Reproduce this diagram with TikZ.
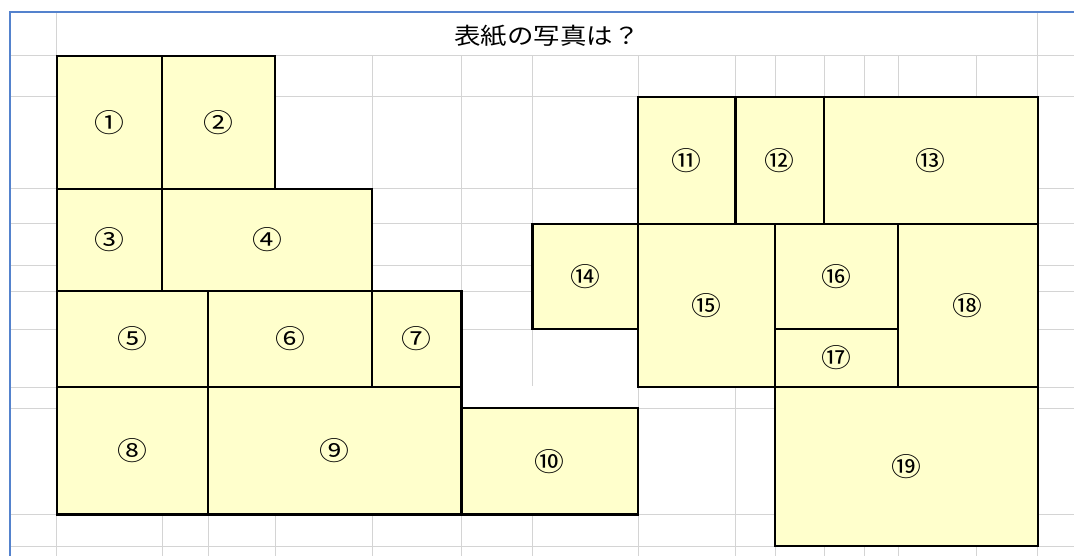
\documentclass[tikz,border=0pt]{standalone}
\usepackage{fontspec}
\setmainfont{Noto Sans CJK JP}
\newfontfamily\jfont[FakeStretch=1.15]{Noto Sans CJK JP}
\definecolor{cellyellow}{RGB}{255,255,204}
\definecolor{gridgray}{RGB}{212,212,212}
\definecolor{sheetblue}{RGB}{84,130,205}

\begin{document}
\begin{tikzpicture}[x=1pt, y=-1pt,
  gridline/.style={gridgray, line width=1pt},
  photobox/.style={draw=black, fill=cellyellow, line width=2.2pt},
  photonum/.style={font=\jfont\fontsize{26}{30}\selectfont, inner sep=0pt}]

\useasboundingbox (0,0) rectangle (1074,556);

\foreach \y in {56,97,189,224,266,291,329,387,408,514.5,546}
	\draw[gridline] (9.6,\y) -- (1074,\y);
\foreach \x in {56.8,162,208,275,372,461.5,532.5,638,735.5,775,824,864,898,976,1037.7}
	\draw[gridline] (\x,56) -- (\x,556);
\foreach \x in {56.8,1037.7}
	\draw[gridline] (\x,12) -- (\x,56);

\fill[white] (533.5,330) rectangle (637,407) (462,386) rectangle (637,407);

\begin{scope}[sheetblue, line width=2pt]
\draw (9.6,556) -- (9.6,11.7) -- (1074,11.7);
\end{scope}

\node[font=\jfont\fontsize{23}{27}\selectfont] (title) at (547,36) {表紙の写真は？};

\foreach \n/\t/\xa/\ya/\xb/\yb in {1/①/56.8/56/162/189, 2/②/162/56/275/189, 3/③/56.8/189/162/291, 4/④/162/189/372/291, 5/⑤/56.8/291/208/387, 6/⑥/208/291/372/387, 7/⑦/372/291/461.5/387, 8/⑧/56.8/387/208/514.5, 9/⑨/208/387/461.5/514.5, 10/⑩/461.5/408/638/514.5, 11/⑪/638/97/735.5/224, 12/⑫/735.5/97/824/224, 13/⑬/824/97/1037.7/224, 14/⑭/532.5/224/638/329, 15/⑮/638/224/775/387, 16/⑯/775/224/898/329, 17/⑰/775/329/898/387, 18/⑱/898/224/1037.7/387, 19/⑲/775/387/1037.7/546}
{
	\draw[photobox] (\xa,\ya) rectangle (\xb,\yb);
	\node[photonum] (p\n) at ({(\xa+\xb)/2},{(\ya+\yb)/2}) {\t};
}

\end{tikzpicture}
\end{document}
